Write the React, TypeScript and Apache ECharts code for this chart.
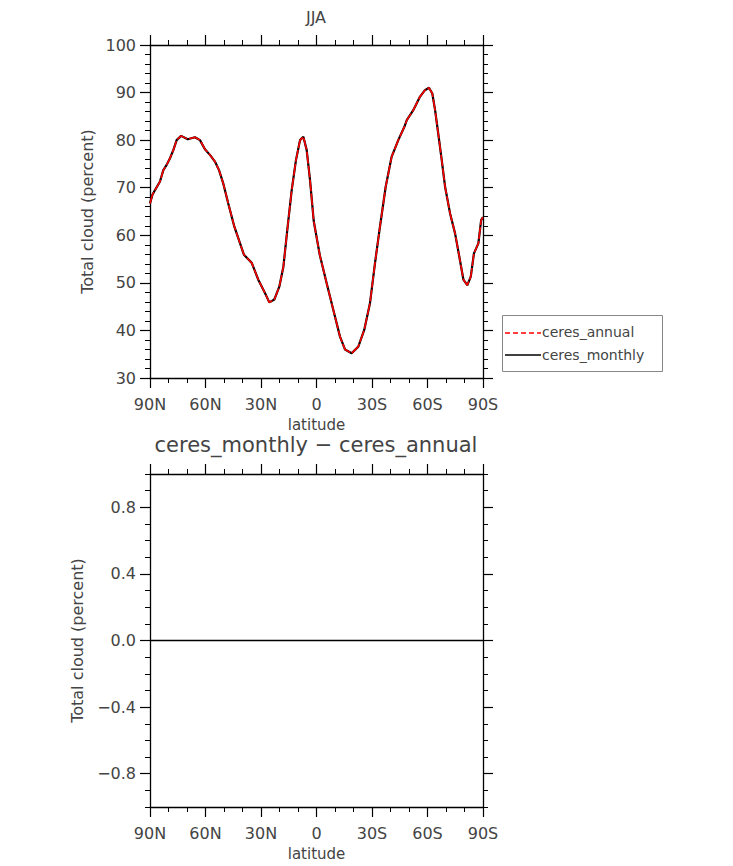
import React, { useEffect, useRef } from "react";
import * as echarts from "echarts";

const latitudes = [
  90, 88.7, 87.3, 84.6, 82.8, 81, 79.2, 77.4, 75.6, 73.2, 69.6, 65.7, 63, 60.3, 57.6, 54.9, 52.7, 50.4, 47.7, 44.4,
  39.2, 35, 31.4, 27.8, 25.5, 22.8, 20.1, 17.9, 15.8, 13.4, 11.1, 8.9, 7.1, 5.3, 3.5, 1.5, -1.8, -5.5, -9.1, -12.7,
  -15.4, -19, -22.6, -25.8, -28.9, -31.6, -34.3, -37.4, -40.6, -44.2, -47.5, -48.8, -52.3, -55.9, -58.6, -60.8,
  -62.6, -64.1, -65.8, -67.7, -69.5, -72.2, -74.9, -77.2, -79.4, -81.5, -83.4, -85.1, -87.5, -89, -90,
];

const ceresAnnual = [
  66.7, 68.5, 69.5, 71.3, 73.7, 74.8, 76.2, 77.9, 80.0, 80.9, 80.2, 80.6, 80.0, 78.1, 76.9, 75.5, 73.7, 70.9, 66.7, 61.8,
  55.9, 54.2, 50.6, 47.8, 45.9, 46.5, 49.2, 53.4, 61.1, 69.5, 75.8, 80.0, 80.7, 77.9, 71.6, 63.0, 55.8, 49.9, 44.3, 38.7,
  36.0, 35.2, 36.6, 40.1, 45.7, 54.1, 61.8, 70.2, 76.5, 80.0, 82.8, 84.2, 86.3, 89.1, 90.5, 91.0,
  89.8, 86.3, 81.4, 75.8, 70.2, 64.6, 60.4, 55.5, 50.7, 49.5, 51.3, 56.2, 58.3, 63.2, 63.8,
];

const ceresMonthly = [
  66.7, 68.5, 69.5, 71.3, 73.7, 74.8, 76.2, 77.9, 80.0, 80.9, 80.2, 80.6, 80.0, 78.1, 76.9, 75.5, 73.7, 70.9, 66.7, 61.8,
  55.9, 54.2, 50.6, 47.8, 45.9, 46.5, 49.2, 53.4, 61.1, 69.5, 75.8, 80.0, 80.7, 77.9, 71.6, 63.0, 55.8, 49.9, 44.3, 38.7,
  36.0, 35.2, 36.6, 40.1, 45.7, 54.1, 61.8, 70.2, 76.5, 80.0, 82.8, 84.2, 86.3, 89.1, 90.5, 91.0,
  89.8, 86.3, 81.4, 75.8, 70.2, 64.6, 60.4, 55.5, 50.7, 49.5, 51.3, 56.2, 58.3, 63.2, 63.8,
];

const latTicks = [90, 60, 30, 0, -30, -60, -90];
const diffMajorTicks = [-0.8, -0.4, 0, 0.4, 0.8];
const diffMinorTicks = [-1, -0.9, -0.8, -0.7, -0.6, -0.5, -0.4, -0.3, -0.2, -0.1, 0, 0.1, 0.2, 0.3, 0.4, 0.5, 0.6, 0.7, 0.8, 0.9, 1];

const FONT = "DejaVu Sans";
const TXT = "#444";

const latLabel = (v: number) => (v > 0 ? `${v}N` : v < 0 ? `${-v}S` : "0");

export default function App() {
  const ref = useRef<HTMLDivElement>(null);
  useEffect(() => {
    document.body.style.margin = "0";
    const chart = echarts.init(ref.current!, undefined, { renderer: "svg" });
    const annualPts = latitudes.map((l, i) => [l, ceresAnnual[i]]);
    const monthlyPts = latitudes.map((l, i) => [l, ceresMonthly[i]]);
    const diffPts = latitudes.map((l, i) => [l, ceresMonthly[i] - ceresAnnual[i]]);

    const axLine = { show: true, onZero: false, lineStyle: { color: "#000", width: 1.3 } };
    const noLine = { show: false, onZero: false };
    const labelStyle = { fontFamily: FONT, fontSize: 16, color: TXT };
    const nameStyle = { fontFamily: FONT, fontSize: 16, color: TXT };

    const xBase = (gridIndex: number, position: string, showLabel: boolean, name?: string) => ({
      type: "value",
      gridIndex,
      position,
      min: -90,
      max: 90,
      interval: 30,
      inverse: true,
      axisLine: axLine,
      axisTick: { show: true, inside: false, length: 10, lineStyle: { color: "#000", width: 1.2 } },
      minorTick: { show: true, splitNumber: 3, length: 5, lineStyle: { color: "#000", width: 1 } },
      splitLine: { show: false },
      axisLabel: { show: showLabel, margin: 18, formatter: latLabel, ...labelStyle },
      name: name,
      nameLocation: "middle",
      nameGap: 39,
      nameTextStyle: { fontFamily: FONT, fontSize: 15, color: TXT },
    });

    const option: any = {
      animation: false,
      grid: [
        { left: 150, top: 45, width: 333, height: 333 },
        { left: 150, top: 474, width: 333, height: 333 },
      ],
      xAxis: [
        xBase(0, "bottom", true, "latitude"),
        xBase(0, "top", false),
        xBase(1, "bottom", true, "latitude"),
        xBase(1, "top", false),
      ],
      yAxis: [
        {
          type: "value", gridIndex: 0, position: "left", min: 30, max: 100, interval: 10,
          axisLine: axLine,
          axisTick: { show: true, inside: false, length: 10, lineStyle: { color: "#000", width: 1.2 } },
          minorTick: { show: true, splitNumber: 5, length: 5, lineStyle: { color: "#000", width: 1 } },
          splitLine: { show: false },
          axisLabel: { margin: 14, ...labelStyle },
          name: "Total cloud (percent)", nameLocation: "middle", nameGap: 55,
          nameTextStyle: nameStyle,
        },
        {
          type: "value", gridIndex: 0, position: "right", min: 30, max: 100, interval: 10,
          axisLine: axLine,
          axisTick: { show: true, inside: false, length: 10, lineStyle: { color: "#000", width: 1.2 } },
          minorTick: { show: true, splitNumber: 5, length: 5, lineStyle: { color: "#000", width: 1 } },
          splitLine: { show: false },
          axisLabel: { show: false },
        },
        {
          type: "value", gridIndex: 1, position: "left", min: -1, max: 1,
          axisLine: axLine,
          axisTick: { show: true, inside: false, length: 10, customValues: diffMajorTicks, lineStyle: { color: "#000", width: 1.2 } },
          splitLine: { show: false },
          axisLabel: {
            margin: 14, customValues: diffMajorTicks, ...labelStyle,
            formatter: (v: number) => v.toFixed(1).replace("-", "\u2212"),
          },
          name: "Total cloud (percent)", nameLocation: "middle", nameGap: 65,
          nameTextStyle: nameStyle,
        },
        {
          type: "value", gridIndex: 1, position: "left", min: -1, max: 1,
          axisLine: noLine,
          axisTick: { show: true, inside: false, length: 5, customValues: diffMinorTicks, lineStyle: { color: "#000", width: 1 } },
          splitLine: { show: false },
          axisLabel: { show: false },
        },
        {
          type: "value", gridIndex: 1, position: "right", min: -1, max: 1,
          axisLine: axLine,
          axisTick: { show: true, inside: false, length: 10, customValues: diffMajorTicks, lineStyle: { color: "#000", width: 1.2 } },
          splitLine: { show: false },
          axisLabel: { show: false },
        },
        {
          type: "value", gridIndex: 1, position: "right", min: -1, max: 1,
          axisLine: noLine,
          axisTick: { show: true, inside: false, length: 5, customValues: diffMinorTicks, lineStyle: { color: "#000", width: 1 } },
          splitLine: { show: false },
          axisLabel: { show: false },
        },
      ],
      series: [
        {
          name: "ceres_monthly", type: "line", xAxisIndex: 0, yAxisIndex: 0, data: monthlyPts,
          showSymbol: false, lineStyle: { color: "#000", width: 2.2, type: "solid" },
        },
        {
          name: "ceres_annual", type: "line", xAxisIndex: 0, yAxisIndex: 0, data: annualPts,
          showSymbol: false, lineStyle: { color: "#ff0000", width: 1.6, type: [12, 2] },
        },
        {
          name: "diff", type: "line", xAxisIndex: 2, yAxisIndex: 2, data: diffPts,
          showSymbol: false, lineStyle: { color: "#000", width: 1.3 },
        },
      ],
      graphic: [
        {
          type: "text", x: 316, y: 17,
          style: { text: "JJA", font: `16px "${FONT}"`, fill: TXT, textAlign: "center", textVerticalAlign: "middle" },
        },
        {
          type: "text", x: 316, y: 445,
          style: { text: "ceres_monthly \u2212 ceres_annual", font: `21px "${FONT}"`, fill: TXT, textAlign: "center", textVerticalAlign: "middle" },
        },
        {
          type: "rect", shape: { x: 502.5, y: 315.5, width: 160, height: 56 },
          style: { fill: "#fff", stroke: "#888", lineWidth: 1 },
        },
        {
          type: "line", shape: { x1: 505, y1: 333, x2: 541, y2: 333 },
          style: { stroke: "#ff0000", lineWidth: 1.3, lineDash: [5, 3] },
        },
        {
          type: "text", x: 542, y: 332,
          style: { text: "ceres_annual", font: `14px "${FONT}"`, fill: TXT, textAlign: "left", textVerticalAlign: "middle" },
        },
        {
          type: "line", shape: { x1: 505, y1: 355, x2: 541, y2: 355 },
          style: { stroke: "#000", lineWidth: 1.3 },
        },
        {
          type: "text", x: 542, y: 355,
          style: { text: "ceres_monthly", font: `14px "${FONT}"`, fill: TXT, textAlign: "left", textVerticalAlign: "middle" },
        },
      ],
    };
    chart.setOption(option);
    return () => chart.dispose();
  }, []);
  return <div ref={ref} style={{ width: 733, height: 866 }} />;
}
